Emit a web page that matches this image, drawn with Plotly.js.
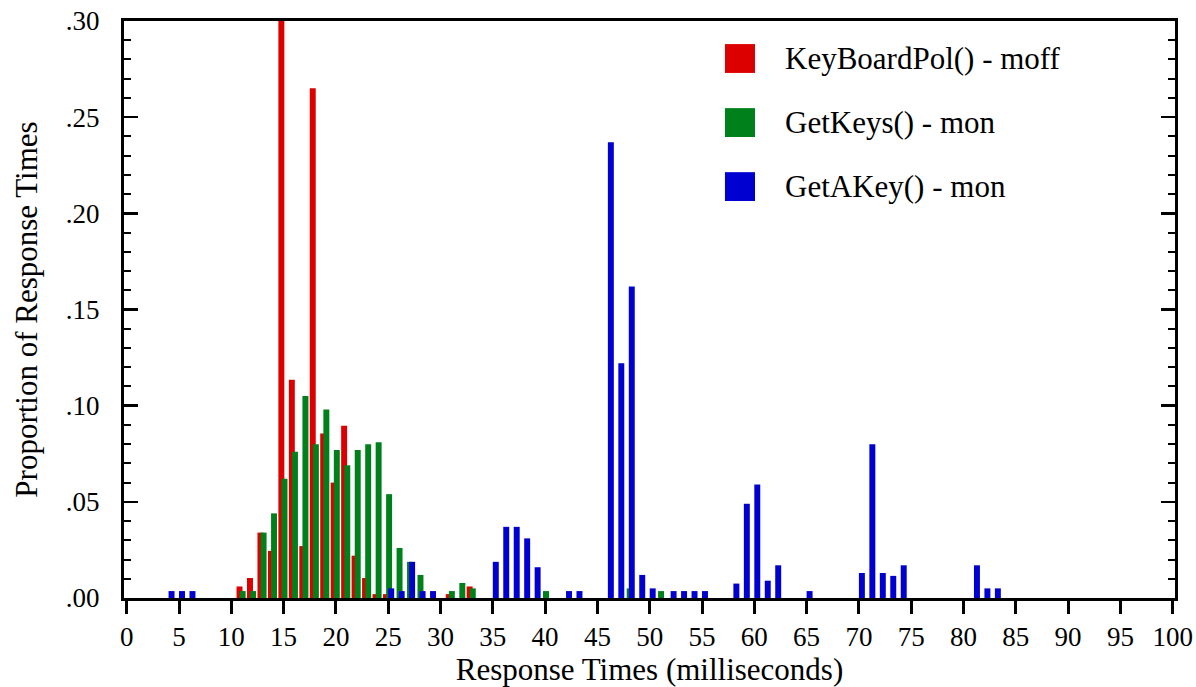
<!DOCTYPE html>
<html>
<head>
<meta charset="utf-8">
<script src="https://cdn.plot.ly/plotly-3.0.1.min.js"></script>
<style>
  html, body { margin: 0; padding: 0; background: #ffffff; }
  #chart { width: 1196px; height: 687px; }
</style>
</head>
<body>
<div id="chart"></div>
<script>
// ---- Data ----
const seriesNames = ["KeyBoardPol() - moff", "GetKeys() - mon", "GetAKey() - mon"];
const seriesColors = ["#dc0000", "#00801a", "#0000d0"];

// KeyBoardPol() - moff
const redTimes = [11, 12, 13, 14, 15, 16, 17, 18, 19, 20, 21, 22, 23, 24, 25, 31, 33];
const redProps = [0.006, 0.0104, 0.034, 0.0245, 0.300, 0.1135, 0.027, 0.265, 0.0855, 0.060, 0.0895, 0.022, 0.0104, 0.002, 0.002, 0.002, 0.006];

// GetKeys() - mon
const greenTimes = [11, 12, 13, 14, 15, 16, 17, 18, 19, 20, 21, 22, 23, 24, 25, 26, 27, 28, 31, 32, 33, 40, 48, 51];
const greenProps = [0.0036, 0.0036, 0.034, 0.044, 0.062, 0.076, 0.105, 0.080, 0.098, 0.077, 0.069, 0.077, 0.080, 0.081, 0.054, 0.026, 0.0188, 0.012, 0.0036, 0.0078, 0.005, 0.0036, 0.005, 0.0036];

// GetAKey() - mon
const blueTimes = [4, 5, 6, 25, 26, 27, 28, 29, 35, 36, 37, 38, 39, 42, 43, 46, 47, 48, 49, 50, 52, 53, 54, 55, 58, 59, 60, 61, 62, 65, 70, 71, 72, 73, 74, 81, 82, 83];
const blueProps = [0.0036, 0.0036, 0.0036, 0.005, 0.0036, 0.0188, 0.0036, 0.0036, 0.0188, 0.037, 0.037, 0.031, 0.016, 0.0036, 0.0036, 0.237, 0.122, 0.162, 0.012, 0.005, 0.0036, 0.0036, 0.0036, 0.0036, 0.0075, 0.049, 0.059, 0.009, 0.017, 0.0036, 0.013, 0.080, 0.013, 0.0115, 0.017, 0.017, 0.005, 0.005];

const xTickVals = [0, 5, 10, 15, 20, 25, 30, 35, 40, 45, 50, 55, 60, 65, 70, 75, 80, 85, 90, 95, 100];
const yTickVals = [0, 0.05, 0.10, 0.15, 0.20, 0.25, 0.30];
const yTickText = [".00", ".05", ".10", ".15", ".20", ".25", ".30"];

const xTitle = "Response Times (milliseconds)";
const yTitle = "Proportion of Response Times";

// ---- Chart ----
const FONT = "'Liberation Serif', 'Times New Roman', Times, serif";
const barOffsets = [-0.5, -0.2, 0.0];
const barWidth = 0.57;

const xs = [redTimes, greenTimes, blueTimes];
const ys = [redProps, greenProps, blueProps];

const traces = xs.map((x, i) => ({
  type: "bar",
  x: x,
  y: ys[i],
  name: seriesNames[i],
  offset: barOffsets[i],
  width: barWidth,
  marker: { color: seriesColors[i], line: { width: 0 } },
  showlegend: false,
  hoverinfo: "x+y+name"
}));

// legend drawn as swatches + text (large squares as in the reference)
const legendRowsY = [0.935, 0.824, 0.713];
const shapes = [];
const annotations = [];
seriesNames.forEach((n, i) => {
  shapes.push({
    type: "rect", xref: "paper", yref: "paper",
    x0: 0.5718, x1: 0.6004,
    y0: legendRowsY[i] - 0.025, y1: legendRowsY[i] + 0.025,
    fillcolor: seriesColors[i], line: { width: 0 }
  });
  annotations.push({
    xref: "paper", yref: "paper",
    x: 0.627, y: legendRowsY[i],
    xanchor: "left", yanchor: "middle",
    text: n, showarrow: false,
    font: { family: FONT, size: 31, color: "#000" }
  });
});

const layout = {
  width: 1196, height: 687,
  margin: { l: 124, r: 21, t: 21, b: 89 },
  paper_bgcolor: "#ffffff",
  plot_bgcolor: "#ffffff",
  barmode: "overlay",
  font: { family: FONT, size: 27, color: "#000" },
  showlegend: false,
  xaxis: {
    range: [-0.26, 100.22],
    tickmode: "array",
    tickvals: xTickVals,
    ticks: "outside",
    ticklen: 13,
    tickwidth: 3,
    tickcolor: "#000",
    showline: true,
    linewidth: 3,
    linecolor: "#000",
    mirror: true,
    showgrid: false,
    zeroline: false,
    tickfont: { family: FONT, size: 27, color: "#000" },
    title: { text: xTitle, font: { family: FONT, size: 31, color: "#000" }, standoff: 6 }
  },
  yaxis: {
    range: [0, 0.30],
    tickmode: "array",
    tickvals: yTickVals,
    ticktext: yTickText,
    ticks: "inside",
    ticklen: 14,
    tickwidth: 2.5,
    tickcolor: "#000",
    minor: { dtick: 0.01, ticks: "inside", ticklen: 7, tickwidth: 2, tickcolor: "#000" },
    showline: true,
    linewidth: 3,
    linecolor: "#000",
    mirror: "ticks",
    showgrid: false,
    zeroline: false,
    ticklabelstandoff: 16,
    tickfont: { family: FONT, size: 27, color: "#000" },
    title: { text: yTitle, font: { family: FONT, size: 31, color: "#000" }, standoff: 19 }
  },
  shapes: shapes,
  annotations: annotations
};

Plotly.newPlot("chart", traces, layout, { displayModeBar: false, staticPlot: true });
</script>
</body>
</html>
